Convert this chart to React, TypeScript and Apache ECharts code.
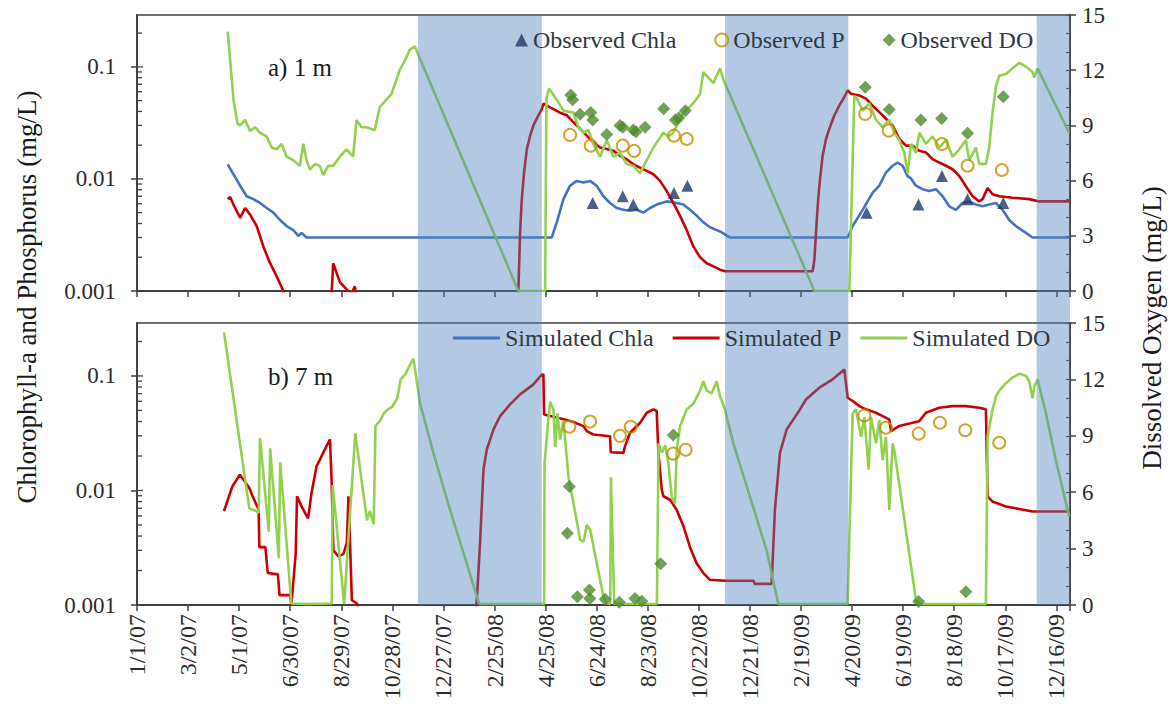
import React, { useEffect, useRef } from 'react';
import * as echarts from 'echarts';

// ---------- data (x = days since 1/1/07) ----------
const xTickLabels = ['1/1/07', '3/2/07', '5/1/07', '6/30/07', '8/29/07', '10/28/07', '12/27/07', '2/25/08', '4/25/08', '6/24/08', '8/23/08', '10/22/08', '12/21/08', '2/19/09', '4/20/09', '6/19/09', '8/18/09', '10/17/09', '12/16/09'];
const X_TICK_STEP = 60;
const X_MAX_DAY = 1096;
const logMajorTicks = [0.001, 0.01, 0.1];
const logMinorTicks = [0.002, 0.003, 0.004, 0.005, 0.006, 0.007, 0.008, 0.009, 0.02, 0.03, 0.04, 0.05, 0.06, 0.07, 0.08, 0.09, 0.2];
const LOG_MIN = 0.001;
const LOG_MAX = 0.29;
const DO_MIN = 0;
const DO_MAX = 15;
const DO_STEP = 3;
const iceCover = [[330, 475.5], [690.8, 835.6], [1056.8, 1096]];

// a) 1 m
const simChla1m = [[106.6, 0.0135], [113.3, 0.011], [121.1, 0.0087], [128.9, 0.007], [136.7, 0.0066], [144.5, 0.0061], [152.3, 0.0055], [160.2, 0.005], [168, 0.0043], [175.8, 0.0038], [183.6, 0.0035], [189.5, 0.0031], [193.4, 0.0033], [199.2, 0.003], [487.2, 0.003], [493.1, 0.0041], [500.9, 0.0066], [508.7, 0.0087], [516.6, 0.0096], [524.4, 0.0093], [532.2, 0.0096], [540, 0.0087], [547.9, 0.007], [555.7, 0.0061], [563.5, 0.0055], [571.4, 0.0053], [579.2, 0.0052], [587, 0.0053], [594.8, 0.005], [602.7, 0.0055], [610.5, 0.0059], [622.2, 0.0063], [634, 0.0061], [641.8, 0.0059], [649.6, 0.0053], [657.5, 0.0047], [665.3, 0.0041], [673.1, 0.0037], [684.9, 0.0034], [696.7, 0.003], [834.8, 0.003], [840.7, 0.0038], [852.4, 0.0053], [864.1, 0.0075], [872, 0.0087], [879.8, 0.0114], [887.6, 0.0131], [893.5, 0.014], [899.4, 0.0131], [905.2, 0.0106], [909.2, 0.0101], [915, 0.0087], [922.8, 0.0081], [930.7, 0.0078], [938.5, 0.0081], [946.3, 0.007], [954.2, 0.0057], [962, 0.0053], [969.8, 0.0061], [977.6, 0.0063], [985.5, 0.0059], [993.3, 0.0057], [1001.1, 0.0059], [1009, 0.0061], [1016.8, 0.0053], [1024.6, 0.0043], [1032.4, 0.0038], [1044.2, 0.0033], [1052, 0.003], [1095, 0.003]];
const simP1m = [[106.6, 0.0066], [109.4, 0.0069], [113.3, 0.0059], [121.1, 0.0045], [127, 0.0055], [132.8, 0.0048], [140.6, 0.0038], [148.4, 0.0025], [156.3, 0.00177], [164.1, 0.00135], [171.9, 0.001], [175.8, 0.0007], [226.6, 0.0005], [230.5, 0.00177], [238.3, 0.0012], [248, 0.001], [252, 0.00095], [255.9, 0.0011], [259.8, 0.0007], [265, 0.0005], [445, 0.0005], [448, 0.001], [450, 0.0033], [452, 0.0066], [454.7, 0.0114], [458, 0.0185], [461.8, 0.0243], [465.7, 0.03], [470.4, 0.0356], [475.5, 0.042], [477.5, 0.047], [481.3, 0.045], [489.2, 0.042], [497, 0.039], [504.8, 0.037], [512.7, 0.032], [520.5, 0.028], [528.3, 0.0243], [536.1, 0.0212], [544, 0.0191], [551.8, 0.0185], [559.6, 0.0178], [567.4, 0.0161], [575.2, 0.015], [583.1, 0.0135], [590.9, 0.0126], [598.7, 0.0118], [606.6, 0.011], [614.4, 0.0096], [622.2, 0.0078], [630, 0.0061], [637.8, 0.0047], [645.7, 0.0035], [653.5, 0.0025], [661.4, 0.002], [669.2, 0.00177], [677.1, 0.00166], [684.9, 0.00155], [690.8, 0.0015], [793.7, 0.0015], [795.7, 0.0019], [797.6, 0.0033], [799.6, 0.0057], [801.5, 0.0086], [805.4, 0.0161], [809.4, 0.0227], [813.3, 0.028], [819.1, 0.0368], [825, 0.045], [830.9, 0.0538], [834.8, 0.0617], [838.7, 0.0575], [848.5, 0.0556], [856.3, 0.052], [864.1, 0.045], [872, 0.0394], [879.8, 0.0344], [887.6, 0.03], [895.5, 0.0227], [903.3, 0.0198], [911.1, 0.0198], [919, 0.0178], [926.8, 0.0172], [934.6, 0.015], [942.4, 0.014], [950.3, 0.0131], [958.1, 0.0122], [966, 0.0106], [973.7, 0.0086], [981.6, 0.007], [989.4, 0.0063], [993.3, 0.0066], [999.2, 0.0083], [1005, 0.0073], [1012.9, 0.007], [1028.5, 0.0068], [1048.1, 0.0066], [1059.8, 0.0063], [1095, 0.0063]];
const simDO1m = [[106.6, 14.1], [113.3, 10.4], [118, 9.1], [121.1, 9.0], [127, 9.3], [132.8, 8.7], [138.7, 8.9], [144.5, 8.6], [152.3, 8.4], [158.2, 7.8], [164, 7.7], [169.9, 8.0], [175.8, 7.3], [183.6, 7.1], [191.4, 6.8], [195.3, 8.0], [199.2, 7.1], [203.1, 6.6], [209, 6.9], [214.8, 6.8], [218.8, 6.3], [224.6, 6.8], [230.5, 6.8], [238.3, 7.3], [246.1, 7.7], [253.9, 7.3], [257.8, 9.3], [263.7, 8.9], [269.5, 8.9], [279.3, 8.75], [285.2, 10.0], [293, 10.4], [298.8, 10.7], [308.6, 12.0], [314.5, 12.5], [320.3, 13.1], [326.2, 13.3], [448, 0], [479.4, 0], [481, 10.5], [484, 11.0], [493.1, 10.4], [500.9, 9.8], [512.7, 9.7], [518.5, 8.9], [524.4, 8.6], [530.3, 8.75], [536.1, 8.0], [543.9, 7.3], [551.8, 8.2], [559.6, 7.3], [567.4, 7.5], [575.2, 6.9], [583.1, 6.8], [590.9, 6.4], [598.7, 7.1], [606.6, 7.8], [612.4, 8.2], [618.3, 8.6], [624.2, 8.4], [630, 8.6], [641.8, 9.7], [653.5, 10.2], [661.4, 10.7], [665.3, 11.9], [671.2, 11.6], [677.1, 11.3], [684.9, 12.1], [688.8, 11.5], [795.7, 0], [836.8, 0], [842.6, 10.6], [846.5, 10.4], [852.4, 9.8], [860.2, 10.2], [868.1, 9.3], [875.9, 8.9], [883.7, 9.3], [889.6, 8.6], [895.5, 8.2], [901.4, 7.5], [905.3, 6.4], [909.2, 8.0], [915, 7.5], [919, 8.6], [926.8, 8.0], [934.6, 8.4], [942.4, 7.8], [950.3, 8.2], [958.1, 7.3], [966, 7.7], [973.7, 8.2], [977.6, 7.1], [985.5, 7.8], [989.4, 6.9], [997.2, 6.9], [1001.1, 7.8], [1005, 9.7], [1009, 11.1], [1012.9, 11.7], [1020.7, 11.8], [1028.5, 12.1], [1036.4, 12.4], [1044.2, 12.2], [1052, 11.9], [1054, 11.6], [1057.9, 12.1], [1095, 8.6]];
const obsChla1m = [[535.3, 0.0061], [570.6, 0.007], [583, 0.0059], [630.8, 0.0075], [646.5, 0.0087], [857, 0.005], [918, 0.0059], [945.6, 0.0106], [975.7, 0.0066], [1017.6, 0.0061]];
const obsP1m = [[508.7, 0.0247], [533, 0.0198], [570.6, 0.0198], [583.9, 0.0178], [630.8, 0.0243], [645.7, 0.0227], [855.5, 0.038], [883, 0.027], [945.6, 0.0205], [975.7, 0.0131], [1016, 0.012]];
const obsDO1m = [[509.5, 10.65], [511.8, 10.4], [520.5, 9.6], [533, 9.7], [535.3, 9.3], [551.8, 8.5], [567.4, 9.0], [570.6, 8.9], [583, 8.75], [586.2, 8.66], [596.8, 8.9], [618.7, 9.9], [632.4, 9.3], [636.3, 9.4], [644.1, 9.8], [855.5, 11.07], [883.7, 9.87], [920.9, 9.29], [945.2, 9.38], [975.7, 8.57], [1017.6, 10.56]];

// b) 7 m
const simP7m = [[102.2, 0.0066], [112.1, 0.0109], [120.8, 0.0137], [127.9, 0.0116], [131.9, 0.0105], [135.8, 0.0089], [142.9, 0.0068], [143.7, 0.0032], [150.8, 0.0032], [153.6, 0.0019], [165.5, 0.00185], [167.4, 0.00122], [180.1, 0.00122], [181.3, 0.001], [183.2, 0.00145], [186.4, 0.0028], [188, 0.0089], [193.1, 0.0073], [201, 0.0057], [205, 0.0095], [210.9, 0.0162], [218.8, 0.0214], [226.7, 0.028], [228.7, 0.0116], [230.7, 0.003], [236.6, 0.00265], [242.5, 0.0028], [246.5, 0.0035], [248.5, 0.0089], [252.4, 0.0011], [258.3, 0.00103], [262.3, 0.0009], [266, 0.0005], [396, 0.0005], [399.9, 0.00135], [403, 0.0035], [407, 0.0152], [410.9, 0.0228], [418.7, 0.034], [426.5, 0.0446], [438.3, 0.0565], [450, 0.069], [465.7, 0.0844], [475.5, 0.103], [477.4, 0.103], [478.2, 0.046], [489.2, 0.044], [504.8, 0.0412], [512.7, 0.0396], [524.4, 0.0365], [528.3, 0.033], [536.1, 0.0308], [555.7, 0.0298], [556.5, 0.0216], [571.4, 0.0213], [573.3, 0.0244], [579.2, 0.0319], [591, 0.039], [598.8, 0.0477], [606.6, 0.051], [610.5, 0.0494], [612.5, 0.0213], [616.4, 0.0102], [618.3, 0.0089], [626.1, 0.0083], [633.9, 0.0068], [641.8, 0.0049], [649.6, 0.0032], [657.5, 0.0023], [665.3, 0.0019], [673.1, 0.00166], [690.7, 0.00163], [724, 0.00163], [725.9, 0.00153], [745.5, 0.00153], [749.4, 0.0068], [755.3, 0.0213], [763.1, 0.034], [778.8, 0.051], [785.9, 0.0623], [801.5, 0.079], [817.2, 0.0934], [830.9, 0.114], [834.8, 0.0645], [840.7, 0.0604], [848.5, 0.0545], [856.3, 0.0511], [868.1, 0.0477], [875.9, 0.0446], [883.7, 0.0418], [885.7, 0.033], [895.5, 0.0366], [911.1, 0.039], [918.9, 0.0403], [926.8, 0.0477], [942.4, 0.0527], [958.1, 0.0545], [973.7, 0.0545], [989.4, 0.0527], [997.2, 0.0511], [999.2, 0.0089], [1005, 0.008], [1020.7, 0.00726], [1036.4, 0.0069], [1052, 0.00656], [1095, 0.00656]];
const simDO7m = [[102.2, 14.5], [131.9, 5.14], [139.8, 5.0], [142.9, 4.9], [144.5, 8.87], [154.8, 3.9], [156.4, 8.33], [166.6, 2.49], [168.2, 7.6], [181.3, 0.08], [199, 0.05], [228.7, 0.08], [229.9, 6.38], [243.3, 0.05], [256.4, 9.13], [270.2, 4.5], [273.4, 5.0], [278.1, 4.3], [280.1, 9.5], [286, 9.84], [290, 10.2], [293.9, 10.37], [299.8, 10.55], [305.8, 11.0], [309.7, 12.0], [315.6, 12.3], [321.6, 12.85], [324.7, 13.1], [332.6, 10.7], [348.3, 8.07], [367.8, 5.05], [387.4, 2.2], [401.1, 0.18], [403, 0.05], [478.2, 0.05], [478.7, 7.5], [482, 9.3], [485.3, 10.8], [489.2, 10.4], [491.2, 8.4], [494, 10.2], [497.1, 8.8], [501, 9.8], [506.9, 6.8], [512.8, 5.4], [520.6, 3.46], [524.5, 3.37], [528.4, 4.26], [532.4, 4.0], [540.2, 2.2], [548, 0.44], [552, 0.09], [555.9, 0.05], [556.7, 6.8], [560.6, 0.05], [610.7, 0.05], [612.7, 8.6], [616.6, 8.1], [620.5, 8.5], [624.4, 7.5], [628.1, 5.76], [632, 5.4], [634, 8.24], [637.9, 9.5], [645.7, 10.4], [653.5, 10.7], [661.4, 11.4], [665.3, 11.9], [669.2, 11.4], [675.1, 11.26], [681, 11.9], [684.9, 11.1], [690.7, 10.4], [700.5, 8.6], [720.1, 5.76], [739.6, 2.9], [751.4, 0.44], [753.3, 0.05], [834.8, 0.05], [835.6, 1.5], [840.7, 10.2], [844.6, 10.4], [850.5, 8.95], [854.4, 10.0], [859.5, 7.2], [862.2, 10.0], [868.1, 8.6], [872, 9.84], [875.9, 7.7], [879.8, 8.95], [883.7, 5.05], [887.6, 8.6], [889.6, 8.24], [915, 0.27], [918.9, 0.05], [997.2, 0.05], [999.2, 8.95], [1005, 10.4], [1009, 11.1], [1012.9, 11.4], [1020.7, 11.8], [1028.5, 12.1], [1036.4, 12.3], [1044.2, 12.2], [1048.1, 11.9], [1052, 11.0], [1054, 11.6], [1057.9, 12.0], [1067.7, 10.2], [1079.4, 7.7], [1095, 4.7]];
const obsP7m = [[507.9, 0.036], [532.2, 0.04], [567.4, 0.03], [580, 0.036], [630, 0.021], [644.5, 0.0227], [854.4, 0.0452], [879.8, 0.0353], [918.2, 0.0314], [943.2, 0.039], [973, 0.0336], [1012.9, 0.0261]];
const obsDO7m = [[507.9, 6.3], [505.6, 3.81], [517.3, 0.44], [531.4, 0.8], [532, 0.35], [550, 0.3], [566.6, 0.15], [585, 0.35], [593, 0.2], [615.2, 2.2], [630, 9.04], [918.2, 0.18], [973.7, 0.71]];

// ---------- styles / layout ----------
const FONT = "'Liberation Serif', 'Times New Roman', 'DejaVu Serif', serif";
const AXIS_COLOR = '#404040';
const TEXT_COLOR = '#2b2b2b';
const LEGEND_COLOR = '#2e3846';
const C_CHLA = '#4472C4';
const C_P = '#CC0000';
const C_DO = '#92D050';
const C_OBS_CHLA = '#1F3864';
const C_OBS_P = '#BF9000';
const C_OBS_DO = '#4E8A2E';
const ICE_FILL = 'rgba(79,129,189,0.43)';
const GRID_LEFT = 137;
const GRID_WIDTH = 933;
const TOP_GRID = { top: 15, height: 276 };
const BOTTOM_GRID = { top: 323, height: 282 };

function xLabel(v: number) {
  const i = Math.round(v / X_TICK_STEP);
  if (Math.abs(v - i * X_TICK_STEP) > 0.01) return '';
  return xTickLabels[i] || '';
}

function logLabel(v: number) {
  const e = Math.log10(v);
  if (Math.abs(e - Math.round(e)) > 1e-6) return '';
  return String(+Number(v).toPrecision(3));
}

function makeXAxis(gridIndex: number, showLabels: boolean) {
  return {
    type: 'value', gridIndex, min: 0, max: X_MAX_DAY, interval: X_TICK_STEP,
    axisLine: { show: true, onZero: false, lineStyle: { color: AXIS_COLOR, width: 1.8 } },
    axisTick: { show: true, inside: false, length: 6, lineStyle: { color: AXIS_COLOR, width: 1.5 } },
    axisLabel: { show: showLabels, rotate: 90, margin: 9, fontSize: 24, fontFamily: FONT, color: TEXT_COLOR, formatter: xLabel },
    splitLine: { show: false },
  };
}

// per grid: [log (left), DO (right), DO minor ticks (right)]
function makeYAxes(gridIndex: number) {
  return [
    {
      type: 'log', logBase: 10, gridIndex, position: 'left', min: LOG_MIN, max: LOG_MAX,
      axisLine: { show: true, onZero: false, lineStyle: { color: AXIS_COLOR, width: 1.8 } },
      axisTick: { show: true, inside: false, length: 6, customValues: logMajorTicks, lineStyle: { color: AXIS_COLOR, width: 1.5 } },
      axisLabel: { customValues: logMajorTicks, margin: 21, fontSize: 23, fontFamily: FONT, color: TEXT_COLOR, formatter: logLabel },
      splitLine: { show: false }, minorTick: { show: false },
    },
    {
      type: 'value', gridIndex, position: 'right', min: DO_MIN, max: DO_MAX, interval: DO_STEP,
      axisLine: { show: true, onZero: false, lineStyle: { color: AXIS_COLOR, width: 1.8 } },
      axisTick: { show: true, inside: false, length: 6, lineStyle: { color: AXIS_COLOR, width: 1.5 } },
      axisLabel: { margin: 12, fontSize: 23, fontFamily: FONT, color: TEXT_COLOR },
      splitLine: { show: false },
    },
    {
      type: 'value', gridIndex, position: 'right', min: DO_MIN, max: DO_MAX, interval: 1,
      axisLine: { show: false, onZero: false },
      axisTick: { show: true, inside: true, length: 4, lineStyle: { color: AXIS_COLOR, width: 1.2 } },
      axisLabel: { show: false },
      splitLine: { show: false },
    },
  ];
}

function line(name: string, data: number[][], xi: number, yi: number, color: string) {
  return {
    type: 'line', name, data, xAxisIndex: xi, yAxisIndex: yi, symbol: 'none', showSymbol: false, clip: true, z: 2,
    lineStyle: { color, width: 2.6 }, itemStyle: { color }, silent: true,
  };
}

function scatter(name: string, data: number[][], xi: number, yi: number, symbol: string, size: number, itemStyle: any) {
  return { type: 'scatter', name, data, xAxisIndex: xi, yAxisIndex: yi, symbol, symbolSize: size, itemStyle, z: 2, clip: true };
}

// minor log ticks (inside), drawn through the log axis scale
function logMinorTickSeries(xi: number, yi: number) {
  return {
    type: 'custom', xAxisIndex: xi, yAxisIndex: yi, silent: true, clip: false, z: 2,
    data: [...logMinorTicks, ...logMajorTicks].map((v) => [0, v]),
    renderItem: (params: any, api: any) => {
      const p = api.coord([api.value(0), api.value(1)]);
      const len = logMajorTicks.indexOf(api.value(1)) >= 0 ? 6 : 5;
      return { type: 'line', shape: { x1: p[0], y1: p[1], x2: p[0] + len, y2: p[1] }, style: { stroke: AXIS_COLOR, lineWidth: 1.3 } };
    },
  };
}

const obsPStyle = { color: 'rgba(255,255,255,0)', borderColor: C_OBS_P, borderWidth: 2 };
const legendLine = (name: string) => ({ name, icon: 'rect' });

const option: any = {
  animation: false,
  textStyle: { fontFamily: FONT },
  grid: [
    { left: GRID_LEFT, width: GRID_WIDTH, top: TOP_GRID.top, height: TOP_GRID.height, show: true, borderColor: AXIS_COLOR, borderWidth: 1.6, backgroundColor: 'rgba(0,0,0,0)', containLabel: false, outerBoundsMode: 'none' },
    { left: GRID_LEFT, width: GRID_WIDTH, top: BOTTOM_GRID.top, height: BOTTOM_GRID.height, show: true, borderColor: AXIS_COLOR, borderWidth: 1.6, backgroundColor: 'rgba(0,0,0,0)', containLabel: false, outerBoundsMode: 'none' },
  ],
  xAxis: [makeXAxis(0, false), makeXAxis(1, true)],
  yAxis: [...makeYAxes(0), ...makeYAxes(1)],
  legend: [
    {
      data: ['Observed Chla', 'Observed P', 'Observed DO'], left: 515, top: 28, padding: 0,
      itemWidth: 13, itemHeight: 13, itemGap: 38, selectedMode: false,
      textStyle: { fontSize: 24, fontFamily: FONT, color: LEGEND_COLOR },
    },
    {
      data: [legendLine('Simulated Chla'), legendLine('Simulated P'), legendLine('Simulated DO')], left: 453, top: 326, padding: 0,
      itemWidth: 47, itemHeight: 3, itemGap: 19, selectedMode: false,
      textStyle: { fontSize: 24, fontFamily: FONT, color: LEGEND_COLOR },
    },
  ],
  graphic: [
    { type: 'text', x: 268, y: 67, style: { text: 'a) 1 m', fontSize: 25, fontFamily: FONT, fill: '#1a1a1a', align: 'left', verticalAlign: 'middle', textAlign: 'left', textVerticalAlign: 'middle' } },
    { type: 'text', x: 268, y: 376, style: { text: 'b) 7 m', fontSize: 25, fontFamily: FONT, fill: '#1a1a1a', align: 'left', verticalAlign: 'middle', textAlign: 'left', textVerticalAlign: 'middle' } },
    { type: 'text', x: 27, y: 297, rotation: Math.PI / 2, style: { text: 'Chlorophyll-a and Phosphorus (mg/L)', fontSize: 27, fontFamily: FONT, fill: '#1a1a1a', align: 'center', verticalAlign: 'middle', textAlign: 'center', textVerticalAlign: 'middle' } },
    { type: 'text', x: 1152, y: 328, rotation: Math.PI / 2, style: { text: 'Dissolved Oxygen (mg/L)', fontSize: 27, fontFamily: FONT, fill: '#1a1a1a', align: 'center', verticalAlign: 'middle', textAlign: 'center', textVerticalAlign: 'middle' } },
  ],
  series: [
    // top panel
    line('Simulated Chla', simChla1m, 0, 0, C_CHLA),
    line('Simulated P', simP1m, 0, 0, C_P),
    line('Simulated DO', simDO1m, 0, 1, C_DO),
    scatter('Observed Chla', obsChla1m, 0, 0, 'triangle', 12, { color: C_OBS_CHLA }),
    scatter('Observed P', obsP1m, 0, 0, 'circle', 12, obsPStyle),
    scatter('Observed DO', obsDO1m, 0, 1, 'diamond', 13, { color: C_OBS_DO }),
    logMinorTickSeries(0, 0),
    // bottom panel
    line('Simulated P', simP7m, 1, 3, C_P),
    line('Simulated DO', simDO7m, 1, 4, C_DO),
    scatter('Observed P', obsP7m, 1, 3, 'circle', 12, obsPStyle),
    scatter('Observed DO', obsDO7m, 1, 4, 'diamond', 13, { color: C_OBS_DO }),
    logMinorTickSeries(1, 3),
    // ice-cover shading spanning both panels
    {
      type: 'custom', name: 'Ice cover', xAxisIndex: 0, yAxisIndex: 1, data: iceCover, z: 3, silent: true, clip: false,
      encode: { x: [0, 1] },
      renderItem: (params: any, api: any) => {
        const x0 = api.coord([api.value(0), 0])[0];
        const x1 = api.coord([api.value(1), 0])[0];
        const cs = params.coordSys;
        return {
          type: 'rect',
          shape: { x: x0, y: cs.y, width: x1 - x0, height: BOTTOM_GRID.top + BOTTOM_GRID.height - cs.y },
          style: { fill: ICE_FILL },
        };
      },
    },
  ],
};

export default function App() {
  const ref = useRef<HTMLDivElement>(null);
  useEffect(() => {
    document.body.style.margin = '0';
    const chart = echarts.init(ref.current as HTMLDivElement, null, { renderer: 'svg' });
    chart.setOption(option);
    return () => chart.dispose();
  }, []);
  return <div ref={ref} style={{ width: 1173, height: 708, background: '#fff' }} />;
}
